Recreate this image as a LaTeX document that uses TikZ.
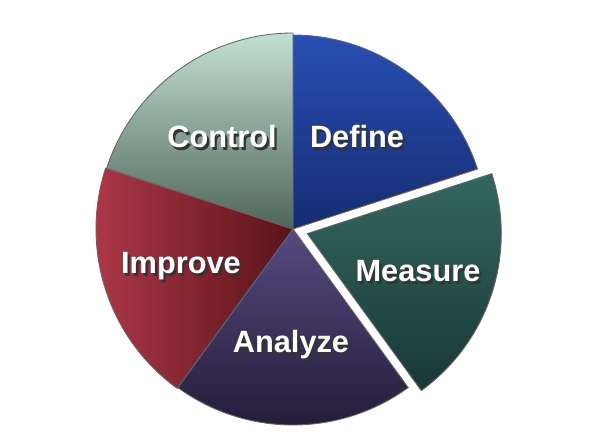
\documentclass[tikz,border=0pt]{standalone}
\usepackage{fontspec}
\setmainfont{Liberation Sans}
\usetikzlibrary{calc}
\definecolor{defineHi}{HTML}{2A4FB2}
\definecolor{defineLo}{HTML}{142C72}
\definecolor{measureHi}{HTML}{34675F}
\definecolor{measureLo}{HTML}{183836}
\definecolor{analyzeHi}{HTML}{554A80}
\definecolor{analyzeLo}{HTML}{221A36}
\definecolor{improveHi}{HTML}{B23A4A}
\definecolor{improveMid}{HTML}{72202A}
\definecolor{improveLo}{HTML}{5A1219}
\definecolor{controlHi}{HTML}{C2E0D0}
\definecolor{controlMid}{HTML}{6E8A7C}
\definecolor{controlLo}{HTML}{4E665A}
\tikzset{
    slice/.style={draw=black!60, line width=0.5pt, shading angle=45},
    phase/.style={anchor=base, text=white, font=\bfseries\fontsize{17.5}{20}\selectfont}
}
\newcommand{\shadowed}[1]{\makebox[0pt][l]{\kern1.3pt\raisebox{-1.3pt}{\color{black!80}#1}}#1}

\begin{document}
\begin{tikzpicture}[x=0.02cm, y=0.02cm]
\useasboundingbox (0,0) rectangle (600,440);
\coordinate (c) at (293,211);
\coordinate (cm) at ($(c)+(-18:15)$);
% slices
\shade[slice, top color=defineHi, bottom color=defineLo] (c) -- ++(90:194) arc[start angle=90, end angle=18, radius=194] -- cycle;
\shade[slice, top color=measureHi, bottom color=measureLo] (cm) -- ++(18:194) arc[start angle=18, end angle=-54, radius=194] -- cycle;
\shade[slice, top color=analyzeHi, bottom color=analyzeLo] (c) -- ++(-54:196) arc[start angle=-54, end angle=-126, radius=196] -- cycle;
\shade[slice, left color=improveHi, middle color=improveMid, right color=improveLo] (c) -- ++(-126:197) arc[start angle=-126, end angle=-198, radius=197] -- cycle;
\shade[slice, top color=controlHi, middle color=controlMid, bottom color=controlLo] (c) -- ++(162:196) arc[start angle=162, end angle=90, radius=196] -- cycle;
% labels
\node[phase] (control) at (222,292) {\shadowed{Control}};
\node[phase] (define) at (357,292) {\shadowed{Define}};
\node[phase] (measure) at (418,158) {\shadowed{Measure}};
\node[phase] (improve) at (181,166) {\shadowed{Improve}};
\node[phase] (analyze) at (291,87) {\shadowed{Analyze}};
\end{tikzpicture}
\end{document}
